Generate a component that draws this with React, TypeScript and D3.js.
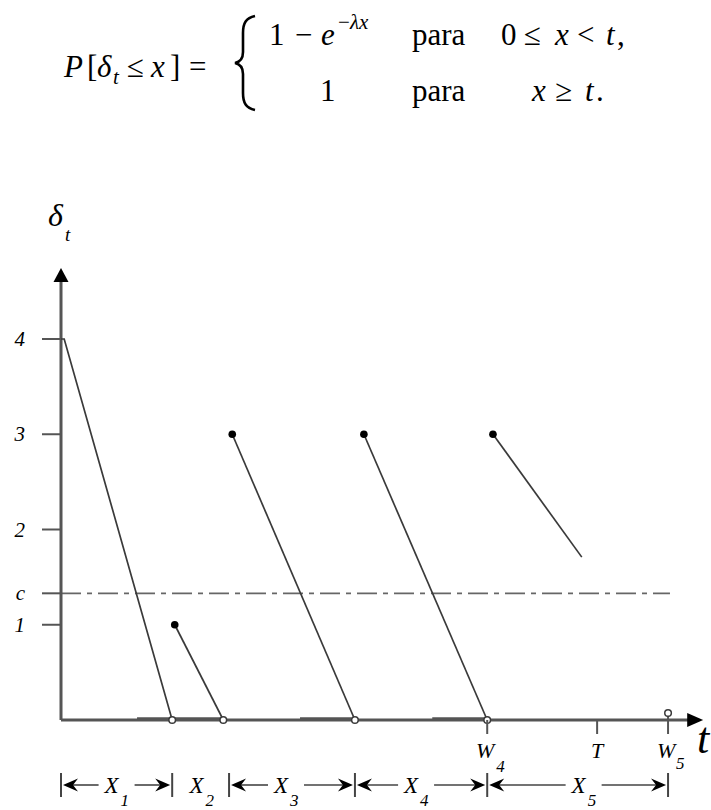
import React from "react";
import * as d3 from "d3";

// Sample path of the process: each piece starts at a jump and decays linearly
const jumpTimes = [0, 17.8, 26.8, 47.4, 67.6];
const jumpValues = [4, 1, 3, 3, 3];
const endTimes = [17.4, 25.4, 46.0, 66.7, 81.5];
const endValues = [0, 0, 0, 0, 1.71];
const startDot = [false, true, true, true, true];
const endOpen = [true, true, true, true, false];

// Stretches where the path rests on the time axis
const idleStarts = [11.9, 37.4, 58.1];
const idleEnds = [25.4, 45.5, 66.7];

// Vertical axis ticks
const yTickValues = [1, 1.33, 2, 3, 4];
const yTickLabels = ["1", "c", "2", "3", "4"];
const threshold = 1.33;

// Marks on the time axis
const markTimes = [66.7, 83.9, 95.0];
const markLabels = ["W", "T", "W"];
const markSubs = ["4", "", "5"];
const markOpen = [false, false, true];

// Inter-arrival intervals X_i
const intervalBounds = [0, 17.4, 26.3, 46.0, 66.7, 95.0];
const intervalSubs = ["1", "2", "3", "4", "5"];
const intervalArrows = [true, false, true, true, true];
const intervalShift = [-2, -1, -8, -7, 4];

const W = 711;
const H = 810;

const x = d3.scaleLinear().domain([0, 100]).range([61, 700]);
const y = d3.scaleLinear().domain([0, 4]).range([720, 339]);

const INK = "#3a3a3a";
const AXIS = "#555";
const serif = "Liberation Serif, Times New Roman, serif";

function arrowHead(tx: number, ty: number, dir: number) {
  // swept filled arrowhead with tip at (tx, ty), pointing in dir (+1 right, -1 left)
  const L = 15;
  const w = 6.5;
  const n = 10;
  return `M${tx},${ty} L${tx - dir * L},${ty - w} L${tx - dir * n},${ty} L${tx - dir * L},${ty + w} Z`;
}

function Formula() {
  const fs = 31;
  const sub = 21;
  const it = { fontStyle: "italic" as const };
  const r0 = 77; // baseline of the left-hand side
  const r1 = 45; // first case
  const r2 = 101; // second case
  return (
    <g fontFamily={serif} fontSize={fs} fill="#000">
      {/* left-hand side */}
      <text x={64} y={r0} {...it}>P</text>
      <text x={87} y={r0}>[</text>
      <text x={97} y={r0} {...it}>δ</text>
      <text x={113} y={r0 + 7} fontSize={sub} {...it}>t</text>
      <text x={127} y={r0}>≤</text>
      <text x={151} y={r0} {...it}>x</text>
      <text x={170} y={r0}>]</text>
      <text x={189} y={r0}>=</text>
      {/* brace */}
      <path
        d="M255,16 C246,18 243,23 243,33 L243,52 C243,58 240,62 235,63 C240,64 243,68 243,74 L243,93 C243,103 246,108 255,110"
        fill="none"
        stroke="#000"
        strokeWidth={2.6}
      />
      {/* first case */}
      <text x={269} y={r1}>1</text>
      <text x={295} y={r1}>−</text>
      <text x={321} y={r1} {...it}>e</text>
      <text x={338} y={r1 - 16} fontSize={sub}>−</text>
      <text x={350} y={r1 - 16} fontSize={sub} {...it}>λx</text>
      <text x={412} y={r1}>para</text>
      <text x={501} y={r1}>0</text>
      <text x={524} y={r1}>≤</text>
      <text x={555} y={r1} {...it}>x</text>
      <text x={577} y={r1}>&lt;</text>
      <text x={606} y={r1} {...it}>t</text>
      <text x={617} y={r1}>,</text>
      {/* second case */}
      <text x={320} y={r2}>1</text>
      <text x={412} y={r2}>para</text>
      <text x={532} y={r2} {...it}>x</text>
      <text x={555} y={r2}>≥</text>
      <text x={585} y={r2} {...it}>t</text>
      <text x={596} y={r2}>.</text>
    </g>
  );
}

export default function App() {
  const line = d3
    .line<[number, number]>()
    .x((d) => x(d[0]))
    .y((d) => y(d[1]));

  const x0 = x(0);
  const y0 = y(0);
  const yTop = 268;
  const xEnd = x(100.5);
  const bandY = 785;

  return (
    <svg
      width={W}
      height={H}
      style={{ position: "absolute", left: 0, top: 0, background: "#fff" }}
    >
      <Formula />

      {/* vertical axis label */}
      <text x={48} y={226} fontFamily={serif} fontSize={32} fontStyle="italic">δ</text>
      <text x={65} y={241} fontFamily={serif} fontSize={19} fontStyle="italic">t</text>

      {/* threshold c */}
      <line
        x1={x0}
        x2={x(95.3)}
        y1={y(threshold)}
        y2={y(threshold)}
        stroke="#666"
        strokeWidth={1.8}
        strokeDasharray="20 6 5 6"
      />

      {/* y ticks */}
      {yTickValues.map((v, i) => (
        <g key={"yt" + i}>
          <line x1={42} x2={x0} y1={y(v)} y2={y(v)} stroke={AXIS} strokeWidth={2} />
          <text
            x={25}
            y={y(v) + 7}
            textAnchor="end"
            fontFamily={serif}
            fontSize={21}
            fontStyle="italic"
          >
            {yTickLabels[i]}
          </text>
        </g>
      ))}

      {/* idle stretches on the axis */}
      {idleStarts.map((s, i) => (
        <line
          key={"id" + i}
          x1={x(s)}
          x2={x(idleEnds[i])}
          y1={y0 - 1}
          y2={y0 - 1}
          stroke="#555"
          strokeWidth={3.5}
        />
      ))}

      {/* axes */}
      <line x1={x0} x2={x0} y1={y0} y2={yTop + 12} stroke={AXIS} strokeWidth={3} />
      <path d={`M${x0},${yTop} L${x0 - 7.5},${yTop + 14} L${x0 + 7.5},${yTop + 14} Z`} fill="#000" />
      <line x1={x0} x2={xEnd - 12} y1={y0} y2={y0} stroke={AXIS} strokeWidth={3} />
      <path d={`M${xEnd},${y0} L${xEnd - 16},${y0 - 7} L${xEnd - 16},${y0 + 7} Z`} fill="#000" />
      <text x={697} y={753} fontFamily={serif} fontSize={44} fontStyle="italic">t</text>

      {/* sample path pieces */}
      {jumpTimes.map((t, i) => {
        const pts: [number, number][] =
          i === 0
            ? [[t, jumpValues[i]], [0.5, jumpValues[i]], [endTimes[i], endValues[i]]]
            : [[t, jumpValues[i]], [endTimes[i], endValues[i]]];
        return (
          <g key={"seg" + i}>
            <path d={line(pts) || ""} fill="none" stroke={INK} strokeWidth={1.7} />
            {startDot[i] && <circle cx={x(t)} cy={y(jumpValues[i])} r={3.8} fill="#000" />}
            {endOpen[i] && (
              <circle
                cx={x(endTimes[i])}
                cy={y(endValues[i])}
                r={3.3}
                fill="#fff"
                stroke={INK}
                strokeWidth={1.5}
              />
            )}
          </g>
        );
      })}

      {/* marks on the time axis */}
      {markTimes.map((t, i) => (
        <g key={"mk" + i}>
          <line
            x1={x(t)}
            x2={x(t)}
            y1={markOpen[i] ? y0 - 4 : y0}
            y2={y0 + 14}
            stroke={AXIS}
            strokeWidth={2}
          />
          {markOpen[i] && (
            <circle cx={x(t)} cy={y0 - 7} r={3.3} fill="#fff" stroke={INK} strokeWidth={1.5} />
          )}
          <text
            x={x(t) + (markSubs[i] ? -2 : 0)}
            y={758}
            textAnchor="middle"
            fontFamily={serif}
            fontSize={22}
            fontStyle="italic"
          >
            {markLabels[i]}
          </text>
          {markSubs[i] && (
            <text
              x={x(t) + (i === 2 ? 8 : 9)}
              y={i === 2 ? 769 : 772}
              fontFamily={serif}
              fontSize={17}
              fontStyle="italic"
            >
              {markSubs[i]}
            </text>
          )}
        </g>
      ))}

      {/* interval bars */}
      {intervalBounds.map((t, i) => (
        <line
          key={"bd" + i}
          x1={x(t)}
          x2={x(t)}
          y1={773}
          y2={797}
          stroke="#444"
          strokeWidth={2}
        />
      ))}

      {/* interval arrows and labels */}
      {intervalSubs.map((s, i) => {
        const a = x(intervalBounds[i]);
        const b = x(intervalBounds[i + 1]);
        const mid = (a + b) / 2 + intervalShift[i];
        const labelL = mid - 12;
        const labelR = mid + 14;
        return (
          <g key={"iv" + i}>
            {intervalArrows[i] && (
              <g>
                <line x1={a + 10} x2={labelL - 4} y1={bandY} y2={bandY} stroke="#444" strokeWidth={1.6} />
                <path d={arrowHead(a + 2, bandY, -1)} fill="#000" />
                <line x1={labelR + 6} x2={b - 10} y1={bandY} y2={bandY} stroke="#444" strokeWidth={1.6} />
                <path d={arrowHead(b - 2, bandY, 1)} fill="#000" />
              </g>
            )}
            <text
              x={mid - 3}
              y={793}
              textAnchor="middle"
              fontFamily={serif}
              fontSize={23}
              fontStyle="italic"
            >
              X
            </text>
            <text x={mid + 6} y={806} fontFamily={serif} fontSize={17} fontStyle="italic">
              {s}
            </text>
          </g>
        );
      })}
    </svg>
  );
}
